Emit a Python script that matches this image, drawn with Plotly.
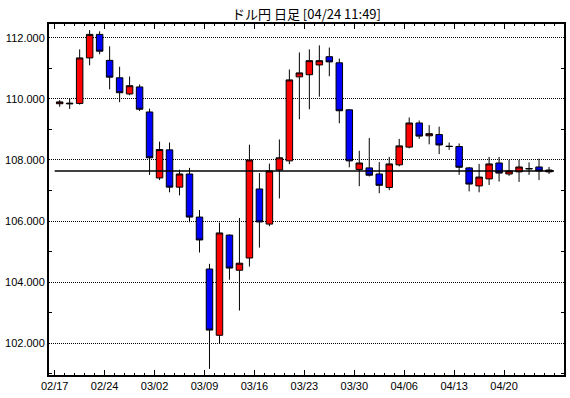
import plotly.graph_objects as go
import pandas as pd

# ---- data ----
dates = [d.strftime("%m/%d") for d in pd.bdate_range("2020-02-17", "2020-04-24")]

open_ = [109.84, 109.86, 109.85, 111.34, 112.11, 111.26, 110.69, 110.16, 110.39, 109.57,
         107.41, 108.33, 107.11, 107.54, 106.13, 104.43, 102.26, 105.54, 104.39, 104.79,
         107.05, 105.90, 107.67, 107.97, 110.72, 110.79, 111.11, 111.38, 111.18, 109.64,
         107.69, 107.74, 107.54, 107.10, 107.84, 108.42, 109.21, 108.79, 108.83, 108.45,
         108.44, 107.74, 107.15, 107.38, 107.90, 107.54, 107.61, 107.72, 107.77, 107.61]
high = [109.96, 110.01, 111.62, 112.25, 112.21, 111.72, 111.05, 110.73, 110.47, 109.68,
        108.60, 108.57, 107.68, 107.74, 106.36, 104.60, 105.95, 105.56, 106.10, 108.50,
        107.57, 107.88, 108.67, 110.96, 111.52, 111.62, 111.75, 111.68, 111.32, 109.66,
        108.30, 108.72, 107.93, 108.10, 108.69, 109.39, 109.29, 109.14, 109.09, 108.57,
        108.54, 107.77, 107.87, 108.10, 108.10, 108.00, 108.00, 107.92, 108.04, 107.77]
low = [109.74, 109.67, 109.81, 111.10, 111.46, 110.31, 109.89, 110.12, 109.60, 107.51,
       107.34, 106.94, 106.84, 105.96, 104.97, 101.16, 102.00, 104.08, 103.07, 104.51,
       105.13, 105.83, 106.74, 107.86, 109.33, 109.66, 110.07, 110.74, 109.20, 107.76,
       107.14, 107.46, 106.91, 107.01, 107.79, 108.38, 108.69, 108.51, 108.19, 108.33,
       107.51, 106.97, 106.94, 107.18, 107.29, 107.48, 107.28, 107.51, 107.34, 107.54]
close = [109.90, 109.84, 111.34, 112.11, 111.56, 110.71, 110.20, 110.43, 109.66, 108.07,
         108.34, 107.11, 107.54, 106.13, 105.38, 102.43, 105.61, 104.46, 104.62, 108.00,
         105.97, 107.64, 108.07, 110.62, 110.85, 111.25, 111.25, 111.21, 109.61, 107.97,
         107.90, 107.50, 107.17, 107.87, 108.46, 109.21, 108.78, 108.86, 108.49, 108.44,
         107.76, 107.21, 107.44, 107.87, 107.57, 107.64, 107.77, 107.71, 107.64, 107.67]
current_price = 107.64
title_text = "ドル円 日足 [04/24 11:49]"
y_major = [102, 104, 106, 108, 110, 112]
y_minor = [101, 103, 105, 107, 109, 111]
week_labels = ["02/17", "02/24", "03/02", "03/09", "03/16", "03/23", "03/30", "04/06", "04/13", "04/20"]

# ---- figure ----
idx = list(range(len(dates)))
week_pos = [dates.index(w) - 0.5 for w in week_labels]

fig = go.Figure()
fig.add_trace(go.Candlestick(
    x=idx, open=open_, high=high, low=low, close=close,
    increasing=dict(line=dict(color="black", width=1), fillcolor="#ff0000"),
    decreasing=dict(line=dict(color="black", width=1), fillcolor="#0000ff"),
    whiskerwidth=0, hoverinfo="skip",
))
fig.add_trace(go.Scatter(
    x=[idx[0] - 0.5, idx[-1] + 0.5], y=[current_price, current_price],
    mode="lines", line=dict(color="black", width=1.5), hoverinfo="skip",
))

fig.update_layout(
    width=570, height=398,
    margin=dict(l=49, r=4, t=24, b=23, pad=0),
    paper_bgcolor="white", plot_bgcolor="white",
    showlegend=False, boxgap=0.35, boxgroupgap=0,
    font=dict(family="Liberation Sans", size=11, color="black"),
    title=dict(text=title_text, x=0.5, xref="paper", xanchor="center",
               y=1 - 14 / 398, yref="container", yanchor="middle",
               font=dict(family="Noto Sans CJK JP", size=13, color="black")),
)
fig.update_xaxes(
    range=[-1.07, 50.5], showgrid=False, zeroline=False,
    showline=True, linecolor="black", linewidth=2, mirror="allticks",
    ticks="inside", ticklen=5, tickwidth=1, tickcolor="black",
    tickmode="array", tickvals=week_pos, ticktext=week_labels,
    minor=dict(ticks="inside", ticklen=2, tickwidth=1, tickcolor="black",
               tick0=-0.5, dtick=1, showgrid=False),
    rangeslider=dict(visible=False), fixedrange=True,
)
fig.update_yaxes(
    range=[100.96, 112.45], zeroline=False,
    showline=True, linecolor="black", linewidth=2, mirror="allticks",
    tickmode="array", tickvals=y_major, tickformat=".3f",
    ticks="inside", ticklen=0, tickcolor="black",
    showgrid=True, gridcolor="black", gridwidth=1, griddash="1px,1px",
    minor=dict(ticks="inside", ticklen=3, tickwidth=1, tickcolor="black",
               tickvals=y_minor, showgrid=False),
    fixedrange=True,
)

# remove the browser's default 8px body margin so the figure fills the window
fig.write_html("out.html", config={"displayModeBar": False},
               post_script="document.body.style.margin='0';")
